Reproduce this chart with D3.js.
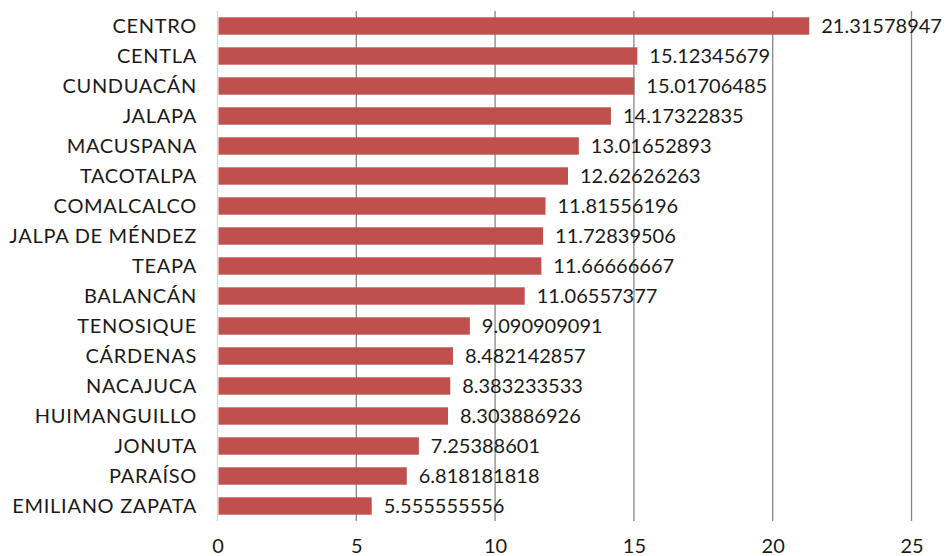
<!DOCTYPE html>
<html><head><meta charset="utf-8">
<script src="https://cdn.jsdelivr.net/npm/d3@7"></script>
<style>body{margin:0;background:#fff}</style>
</head><body><svg id="c" width="946" height="556"></svg>
<script>
const categories = ["CENTRO","CENTLA","CUNDUACÁN","JALAPA","MACUSPANA","TACOTALPA","COMALCALCO","JALPA DE MÉNDEZ","TEAPA","BALANCÁN","TENOSIQUE","CÁRDENAS","NACAJUCA","HUIMANGUILLO","JONUTA","PARAÍSO","EMILIANO ZAPATA"];
const values = [21.31578947,15.12345679,15.01706485,14.17322835,13.01652893,12.62626263,11.81556196,11.72839506,11.66666667,11.06557377,9.090909091,8.482142857,8.383233533,8.303886926,7.25388601,6.818181818,5.555555556];
const valueLabels = ["21.31578947","15.12345679","15.01706485","14.17322835","13.01652893","12.62626263","11.81556196","11.72839506","11.66666667","11.06557377","9.090909091","8.482142857","8.383233533","8.303886926","7.25388601","6.818181818","5.555555556"];
const xTicks = [0,5,10,15,20,25];

const font = "Lato, 'Open Sans', sans-serif";
const fs = 20;
const svg = d3.select("#c");
const x = d3.scaleLinear().domain([0,25]).range([217.5,911.5]);
const y = d3.scaleBand().domain(categories).range([11,521]).paddingInner(0.42).paddingOuter(0.21);

svg.append("g").selectAll("line").data(xTicks.slice(1)).join("line")
  .attr("x1",d=>x(d)).attr("x2",d=>x(d)).attr("y1",11).attr("y2",521)
  .attr("stroke","#878787").attr("stroke-width",1.3);
svg.append("line").attr("x1",x(0)).attr("x2",x(0)).attr("y1",11).attr("y2",521)
  .attr("stroke","#d9d9d9").attr("stroke-width",1.3);

svg.append("g").selectAll("rect").data(values).join("rect")
  .attr("x",x(0)+1).attr("y",(d,i)=>y(categories[i]))
  .attr("width",d=>x(d)-x(0)-1).attr("height",y.bandwidth())
  .attr("fill","#c0504d");

svg.append("g").selectAll("text").data(valueLabels).join("text")
  .attr("x",(d,i)=>x(values[i])+12).attr("y",(d,i)=>y(categories[i])+y.bandwidth()/2)
  .attr("dy","0.36em").attr("font-family",font).attr("font-size",fs).attr("fill","#1a1a1a")
  .text(d=>d);

svg.append("g").selectAll("text").data(categories).join("text")
  .attr("x",197).attr("y",d=>y(d)+y.bandwidth()/2).attr("text-anchor","end")
  .attr("dy","0.36em").attr("font-family",font).attr("font-size",fs).attr("fill","#1a1a1a")
  .attr("letter-spacing","0.7px")
  .text(d=>d);

const ax = d3.axisBottom(x).tickValues(xTicks).tickSize(0).tickPadding(0);
const g = svg.append("g").attr("transform","translate(0,553)").call(ax);
g.select(".domain").remove();
g.selectAll("text").attr("font-family",font).attr("font-size",fs).attr("fill","#1a1a1a").attr("dy","0");
</script></body></html>
